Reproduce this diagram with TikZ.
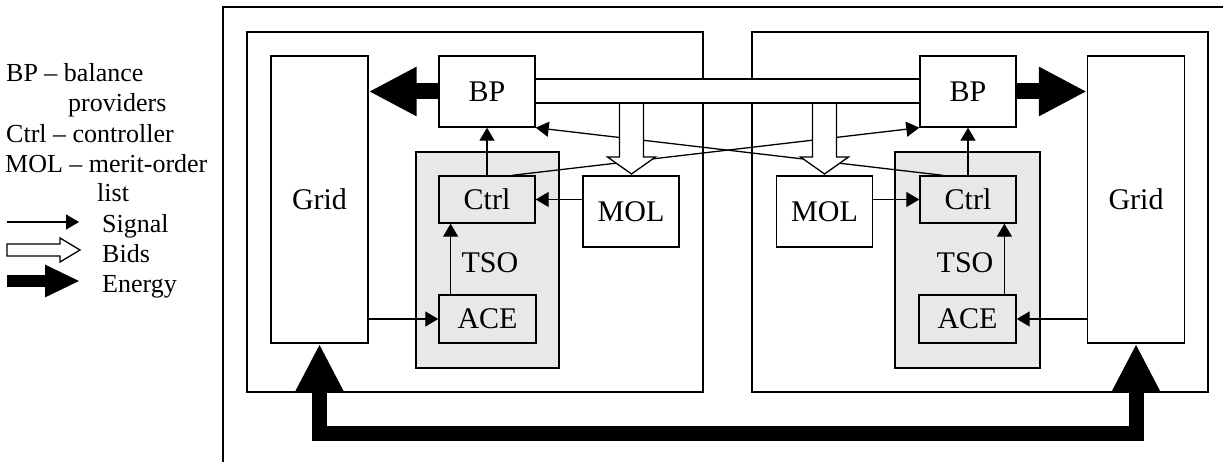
\documentclass[tikz,border=0pt]{standalone}
\usepackage{fontspec}
\setmainfont{Liberation Serif}
\usetikzlibrary{arrows.meta,calc}
\begin{document}
\begin{tikzpicture}[x=1pt,y=-1pt,
  box/.style={draw,line width=1.4pt,inner sep=0pt,fill=white,font=\fontsize{30}{36}\selectfont},
  gbox/.style={box,fill=black!9},
  sig/.style={line width=1.3pt,-{Triangle[length=13pt,width=15pt]}},
  energy/.style={line width=16pt,-{Triangle[length=48pt,width=46pt]}},
  eloopstyle/.style={line width=15pt,line join=miter,{Triangle[length=49pt,width=46pt]}-{Triangle[length=49pt,width=46pt]}},
  bid/.style={draw,line width=1.3pt,fill=white,line join=miter},
  framestyle/.style={line width=1.3pt},
  legend/.style={anchor=base west,inner sep=0pt,font=\fontsize{26}{30}\selectfont},
  lbl/.style={inner sep=0pt,font=\fontsize{30}{36}\selectfont}]

\useasboundingbox (0,0) rectangle (1223,462);
\fill[white] (0,0) rectangle (1223,462);

% outer frame (cut by the picture edge)
\draw[framestyle] (223,470) -- (223,7) -- (1230,7);

% area boxes
\node[box,minimum width=456pt,minimum height=360pt] (innerL) at (475,212) {};
\node[box,minimum width=456pt,minimum height=360pt] (innerR) at (980,212) {};

% grids
\node[box,minimum width=97pt,minimum height=287pt] (gridL) at (319.5,199.5) {Grid};
\node[box,minimum width=97pt,minimum height=287pt] (gridR) at (1136,199.5) {Grid};

% balance providers
\node[box,minimum width=96pt,minimum height=71pt] (bpL) at (487,91.5) {BP};
\node[box,minimum width=96pt,minimum height=71pt] (bpR) at (968,91.5) {BP};

% merit order lists
\node[box,minimum width=96pt,minimum height=71pt] (molL) at (631,211.5) {MOL};
\node[box,minimum width=96pt,minimum height=71pt] (molR) at (824.5,211.5) {MOL};

% TSO boxes
\node[gbox,minimum width=143pt,minimum height=216pt] (tsoL) at (487.5,260) {};
\node[gbox,minimum width=145pt,minimum height=216pt] (tsoR) at (967.5,260) {};
\node[gbox,minimum width=96pt,minimum height=47pt] (ctrlL) at (487,199.5) {Ctrl};
\node[gbox,minimum width=96pt,minimum height=47pt] (ctrlR) at (968,199.5) {Ctrl};
\node[gbox,minimum width=97pt,minimum height=48pt] (aceL) at (487.5,319) {ACE};
\node[gbox,minimum width=97pt,minimum height=48pt] (aceR) at (967.5,319) {ACE};
\node[lbl] (tsoLtext) at (490,263) {TSO};
\node[lbl] (tsoRtext) at (965,263) {TSO};

% signals
\draw[sig] (ctrlL.north) -- (bpL.south);
\draw[sig] (ctrlR.north) -- (bpR.south);
\coordinate (aceLup) at ($(aceL.north west)!0.125!(aceL.north east)$);
\coordinate (aceRup) at ($(aceR.north east)!0.125!(aceR.north west)$);
\draw[sig] (aceLup) -- (aceLup |- ctrlL.south);
\draw[sig] (aceRup) -- (aceRup |- ctrlR.south);
\draw[sig] (aceL.west -| gridL.east) -- (aceL.west);
\draw[sig] (aceR.east -| gridR.west) -- (aceR.east);
\draw[sig] (ctrlL.east -| molL.west) -- (ctrlL.east);
\draw[sig] (ctrlR.west -| molR.east) -- (ctrlR.west);
\coordinate (ctrlLx) at ($(ctrlL.north west)!0.76!(ctrlL.north east)$);
\coordinate (ctrlRx) at ($(ctrlR.north east)!0.76!(ctrlR.north west)$);
\draw[sig] (ctrlLx) -- (bpR.south west);
\draw[sig] (ctrlRx) -- (bpL.south east);

% bids (hollow arrows from the BP-BP bar to the MOLs)
\draw[bid] (619.5,103) -- (619.5,157) -- (607.5,157) -- (631.5,174) -- (655.5,157) -- (643.5,157) -- (643.5,103);
\draw[bid] (812.5,103) -- (812.5,157) -- (800.5,157) -- (824.5,174) -- (848.5,157) -- (836.5,157) -- (836.5,103);
\node[box,minimum width=385pt,minimum height=24pt] (bar) at (727.5,91) {};

% energy
\draw[energy] (bpL.west) -- (bpL.west -| gridL.east);
\draw[energy] (bpR.east) -- (bpR.east -| gridR.west);
\coordinate (eloop) at (0,433);
\draw[eloopstyle] (gridL.south) -- (gridL.south |- eloop) -- (gridR.south |- eloop) -- (gridR.south);

% legend
\node[legend] (l1) at (6,82) {BP – balance};
\node[legend] (l2) at (68,112) {providers};
\node[legend] (l3) at (6,143) {Ctrl – controller};
\node[legend] (l4) at (5,173) {MOL – merit-order};
\node[legend] (l5) at (97,202) {list};
\node[legend] (l6) at (102,233) {Signal};
\node[legend] (l7) at (102,263) {Bids};
\node[legend] (l8) at (102,292) {Energy};
\coordinate (s1) at (7,222);
\coordinate (s2) at (79,222);
\draw[sig] (s1) -- (s2);
\draw[bid] (7,244) -- (60,244) -- (60,238) -- (80,250) -- (60,262) -- (60,256) -- (7,256) -- cycle;
\coordinate (e1) at (7,281);
\coordinate (e2) at (80,281);
\draw[line width=12pt,-{Triangle[length=35pt,width=30pt]}] (e1) -- (e2);
\end{tikzpicture}
\end{document}
